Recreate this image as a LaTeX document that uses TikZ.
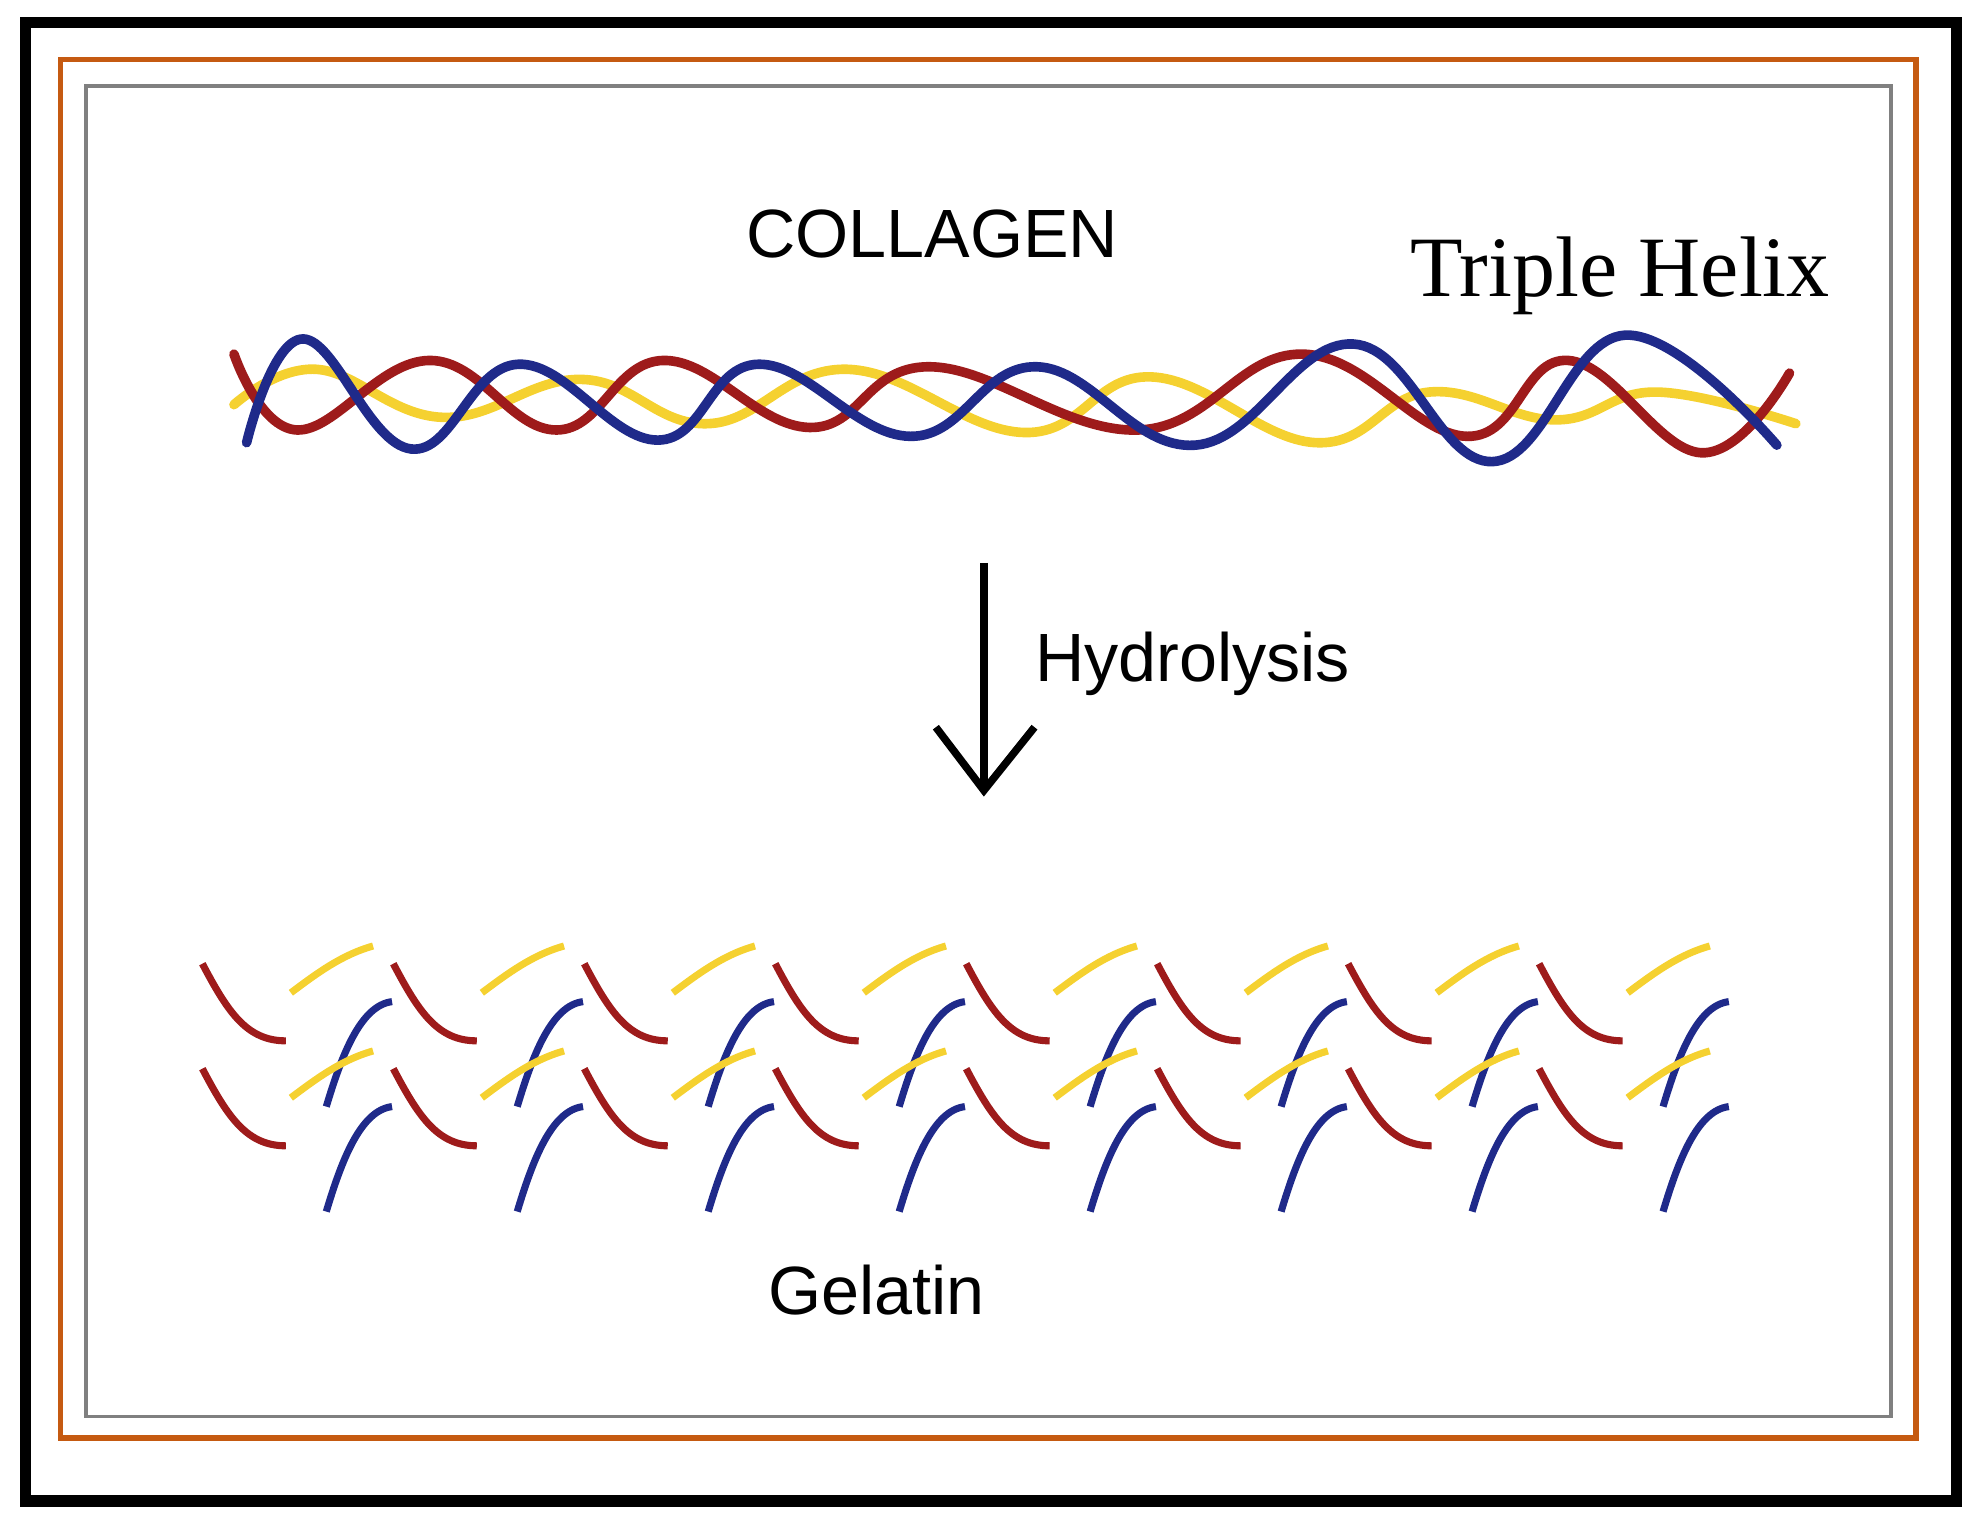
\documentclass[tikz,border=0pt]{standalone}
\usepackage{fontspec}
\setmainfont{Liberation Sans}
\newfontfamily\serifhx{Liberation Serif}
\definecolor{cred}{HTML}{9E1B1B}
\definecolor{cblue}{HTML}{1F2A8A}
\definecolor{cyel}{HTML}{F5D130}
\definecolor{corange}{HTML}{C55A11}
\begin{document}
\begin{tikzpicture}[x=0.5pt,y=-0.5pt,
  wave/.style={line width=3.8pt,line cap=round},
  frag/.style={line width=2.8pt},
  lbl/.style={font=\fontsize{27}{30}\selectfont,inner sep=0pt}]
\useasboundingbox (0,0) rectangle (1568,1206);
\draw[line width=4.5pt] (20,18) rectangle (1547,1187);
\draw[corange,line width=2.2pt] (48,47) rectangle (1515,1137);
\draw[gray,line width=1.5pt] (68,68) rectangle (1495,1120);
% helix
\draw[wave,cyel] plot[smooth,tension=0.7] coordinates {(185,320)(250,292)(350,330)(460,300)(560,335)(670,292)(810,342)(910,298)(1040,350)(1130,310)(1230,332)(1310,310)(1420,335)};
\draw[wave,cred] plot[smooth,tension=0.7] coordinates {(185,280)(235,340)(340,285)(440,340)(525,285)(640,338)(735,290)(900,340)(1030,280)(1160,345)(1240,285)(1345,358)(1415,295)};
\draw[wave,cblue] plot[smooth,tension=0.7] coordinates {(195,350)(240,268)(325,355)(410,288)(520,348)(600,288)(720,345)(820,290)(945,352)(1070,272)(1180,365)(1285,265)(1405,352)};
\node[lbl] (col) at (737,185) {COLLAGEN};
\node[inner sep=0pt,font=\serifhx\fontsize{34}{38}\selectfont] (th) at (1281,218) {Triple Helix};
% arrow
\coordinate (a1) at (778,445);
\coordinate (a2) at (778,625);
\draw[line width=3pt] (a1) -- (a2);
\draw[line width=3pt] (740,575) -- (a2) -- (818,575);
\node[lbl,anchor=west] (hyd) at (818,525) {Hydrolysis};
% fragments
\foreach \i in {0,...,7}{
 \foreach \dy in {0,83}{
  \begin{scope}[shift={(151*\i,\dy)}]
   \draw[frag,cred] (160,762) .. controls (180,800) and (195,823) .. (226,823);
   \draw[frag,cyel] (230,785) .. controls (250,770) and (270,755) .. (295,748);
   \draw[frag,cblue] (258,875) .. controls (270,835) and (285,795) .. (310,792);
  \end{scope}}}
\node[lbl] (gel) at (693,1020) {Gelatin};
\end{tikzpicture}
\end{document}
